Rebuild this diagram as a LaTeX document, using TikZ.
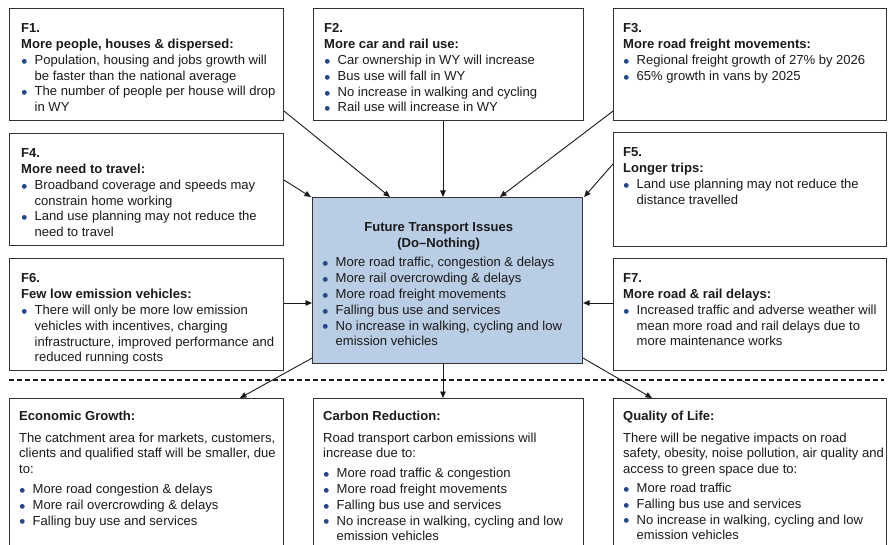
\documentclass[tikz,border=0pt]{standalone}
\usepackage{fontspec}
\setmainfont{Liberation Sans}
\newfontfamily\markfont{DejaVu Sans}
\usetikzlibrary{arrows.meta,calc}

\definecolor{edge}{HTML}{333333}
\definecolor{ink}{HTML}{1A1A1A}
\definecolor{dot}{HTML}{26478A}
\definecolor{issue}{HTML}{B9CDE5}

% bullet marker and hanging indent for wrapped bullet lines
\newcommand{\bul}{\makebox[13.5pt][l]{\hspace{0.3pt}\textcolor{dot}{\markfont\fontsize{6.3}{6.3}\selectfont\raisebox{1.1pt}{●}}}}
\newcommand{\ind}{\hspace*{13.5pt}}

\tikzset{
  panel/.style={draw=edge, line width=1.1pt, anchor=north west, inner sep=0pt},
  body/.style={anchor=north west, inner sep=0pt, align=left, text=ink,
               font=\fontsize{13.05}{15.8}\selectfont},
  link/.style={draw=ink, line width=0.9pt, -{Triangle[length=6.5pt,width=5.5pt]}},
  divider/.style={draw=ink, line width=1.2pt, dash pattern=on 5pt off 3pt}
}

\begin{document}
\begin{tikzpicture}[x=1pt,y=-1pt]
\useasboundingbox (0,0) rectangle (889,545);
\clip (0,0) rectangle (889,545);

% ---- factor boxes ----
\node[panel, minimum width=274pt, minimum height=112pt] (f1) at (9,8) {};
\node[panel, minimum width=270pt, minimum height=112pt] (f2) at (313,8) {};
\node[panel, minimum width=273pt, minimum height=112pt] (f3) at (613,8) {};
\node[panel, minimum width=274pt, minimum height=112pt] (f4) at (9,133) {};
\node[panel, minimum width=273pt, minimum height=114pt] (f5) at (613,132) {};
\node[panel, minimum width=274pt, minimum height=112pt] (f6) at (9,258) {};
\node[panel, minimum width=273pt, minimum height=112pt] (f7) at (613,258) {};

% ---- central issues box ----
\node[panel, fill=issue, minimum width=270pt, minimum height=166pt] (c) at (312,197) {};

% ---- outcome boxes (run past the lower edge) ----
\node[panel, minimum width=274pt, minimum height=160pt] (eg) at (9,398) {};
\node[panel, minimum width=270pt, minimum height=160pt] (cr) at (313,398) {};
\node[panel, minimum width=273pt, minimum height=160pt] (ql) at (613,398) {};

% ---- texts ----
\node[body] (f1t) at (21,23.6) {\textbf{F1.}\\
\textbf{More people, houses \& dispersed:}\\
\bul Population, housing and jobs growth will\\
\ind be faster than the national average\\
\bul The number of people per house will drop\\
\ind in WY};

\node[body] (f2t) at (324,23.6) {\textbf{F2.}\\
\textbf{More car and rail use:}\\
\bul Car ownership in WY will increase\\
\bul Bus use will fall in WY\\
\bul No increase in walking and cycling\\
\bul Rail use will increase in WY};

\node[body] (f3t) at (623,23.6) {\textbf{F3.}\\
\textbf{More road freight movements:}\\
\bul Regional freight growth of 27\% by 2026\\
\bul 65\% growth in vans by 2025};

\node[body] (f4t) at (21,148.6) {\textbf{F4.}\\
\textbf{More need to travel:}\\
\bul Broadband coverage and speeds may\\
\ind constrain home working\\
\bul Land use planning may not reduce the\\
\ind need to travel};

\node[body] (f5t) at (623,147.6) {\textbf{F5.}\\
\textbf{Longer trips:}\\
\bul Land use planning may not reduce the\\
\ind distance travelled};

\node[body] (f6t) at (21,273.6) {\textbf{F6.}\\
\textbf{Few low emission vehicles:}\\
\bul There will only be more low emission\\
\ind vehicles with incentives, charging\\
\ind infrastructure, improved performance and\\
\ind reduced running costs};

\node[body] (f7t) at (623,273.6) {\textbf{F7.}\\
\textbf{More road \& rail delays:}\\
\bul Increased traffic and adverse weather will\\
\ind mean more road and rail delays due to\\
\ind more maintenance works};

\node[body] (ct) at (322,222.6) {\makebox[233pt]{\textbf{Future Transport Issues}}\\
\makebox[233pt]{\textbf{(Do–Nothing)}}\\[3.5pt]
\bul More road traffic, congestion \& delays\\
\bul More rail overcrowding \& delays\\
\bul More road freight movements\\
\bul Falling bus use and services\\
\bul No increase in walking, cycling and low\\
\ind emission vehicles};

\node[body] (egt) at (19,410.6) {\textbf{Economic Growth:}\\[6pt]
The catchment area for markets, customers,\\
clients and qualified staff will be smaller, due\\
to:\\[4pt]
\bul More road congestion \& delays\\
\bul More rail overcrowding \& delays\\
\bul Falling buy use and services};

\node[body] (crt) at (323,410.6) {\textbf{Carbon Reduction:}\\[6pt]
Road transport carbon emissions will\\
increase due to:\\[4pt]
\bul More road traffic \& congestion\\
\bul More road freight movements\\
\bul Falling bus use and services\\
\bul No increase in walking, cycling and low\\
\ind emission vehicles};

\node[body] (qlt) at (623,410.6) {\textbf{Quality of Life:}\\[6pt]
There will be negative impacts on road\\
safety, obesity, noise pollution, air quality and\\
access to green space due to:\\[3pt]
\bul More road traffic\\
\bul Falling bus use and services\\
\bul No increase in walking, cycling and low\\
\ind emission vehicles};

% ---- connectors into the issues box ----
\draw[link] ($(f1.south east)+(0,-10)$) -- ($(c.north west)+(78,0)$);
\draw[link] ($(f2.south west)+(130,0)$) -- ($(c.north west)+(131,0)$);
\draw[link] ($(f3.south west)+(0,-10)$) -- ($(c.north west)+(188,0)$);
\draw[link] ($(f4.south east)+(0,-66)$) -- ($(c.north west)+(-1,0)$);
\draw[link] ($(f5.north west)+(0,32)$) -- ($(c.north east)+(1,0)$);
\draw[link] ($(f6.north east)+(0,45)$) -- ($(c.north west)+(0,106)$);
\draw[link] ($(f7.north west)+(0,45)$) -- ($(c.north east)+(0,106)$);

% ---- divider between causes and impacts ----
\coordinate (sepL) at (9,380);
\coordinate (sepR) at (884,380);
\draw[divider] (sepL) -- (sepR);

% ---- connectors out to the impact boxes ----
\draw[link] ($(c.south west)+(0,-6)$) -- ($(eg.north west)+(231,0)$);
\draw[link] ($(c.south west)+(131,0)$) -- ($(cr.north west)+(130,0)$);
\draw[link] ($(c.south east)+(0,-6)$) -- ($(ql.north west)+(39,0)$);
\end{tikzpicture}
\end{document}
